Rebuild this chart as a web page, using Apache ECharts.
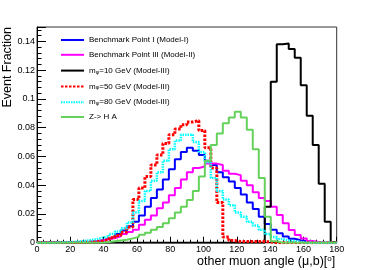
<!DOCTYPE html>
<html><head><meta charset="utf-8">
<script src="https://cdn.jsdelivr.net/npm/echarts@6/dist/echarts.min.js"></script>
<style>html,body{margin:0;padding:0;background:#fff}#c{width:374px;height:270px}</style>
</head><body><div id="c"></div>
<script>
// 50 bins of 3.6 degrees from 0 to 180
const BIN_WIDTH = 3.6;
const xTickValues = [0, 20, 40, 60, 80, 100, 120, 140, 160, 180];
const yTickValues = [0, 0.02, 0.04, 0.06, 0.08, 0.1, 0.12, 0.14];

const benchmarkI = [0.0001,0.0001,0.0001,0.0001,0.0001,0.0001,0.0002,0.0003,0.0006,0.001,
 0.0018,0.0028,0.004,0.006,0.0085,0.0115,0.0145,0.019,0.025,0.031,
 0.037,0.044,0.051,0.058,0.063,0.066,0.064,0.061,0.057,0.054,
 0.049,0.0455,0.0425,0.038,0.0335,0.028,0.0235,0.018,0.013,0.009,
 0.0065,0.0043,0.0028,0.0018,0.001,0.0005,0.0002,0,0,0];
const benchmarkIII = [0.0001,0.0001,0.0001,0.0001,0.0001,0.0001,0.0002,0.0004,0.0006,0.001,
 0.0016,0.0024,0.0033,0.0045,0.006,0.0075,0.009,0.0125,0.016,0.019,
 0.024,0.028,0.033,0.038,0.044,0.049,0.052,0.053,0.055,0.055,
 0.054,0.050,0.048,0.047,0.043,0.040,0.035,0.031,0.029,0.025,
 0.0193,0.0135,0.0088,0.0053,0.003,0.0012,0.0005,0,0,0];
const mphi10 = [0,0,0,0,0,0,0,0,0,0,
 0,0,0,0,0,0,0,0,0,0,
 0,0,0,0,0,0,0,0,0,0,
 0,0,0,0,0,0,0,0,0.025,0.112,
 0.138,0.1386,0.1347,0.1287,0.1095,0.0883,0.068,0.041,0.0146,0.0005];
const mphi50 = [0,0,0,0,0,0.0001,0.0002,0.0004,0.0006,0.0009,
 0.0012,0.002,0.0035,0.005,0.0075,0.011,0.03,0.038,0.046,0.054,
 0.061,0.069,0.075,0.079,0.082,0.084,0.085,0.078,0.066,0.052,
 0.028,0.004,0.0015,0.0008,0.0008,0.0008,0.0008,0.0008,0.0005,0,
 0,0,0,0,0,0,0,0,0,0];
const mphi80 = [0,0,0,0.0002,0.0003,0.0005,0.0008,0.0012,0.0017,0.0025,
 0.0035,0.0045,0.006,0.0078,0.01,0.014,0.021,0.029,0.036,0.043,
 0.049,0.057,0.065,0.071,0.075,0.075,0.070,0.063,0.056,0.045,
 0.036,0.030,0.026,0.021,0.018,0.0145,0.012,0.009,0.006,0.004,
 0.0025,0.0015,0.001,0.0005,0,0,0,0,0,0];
const zHA = [0,0,0,0,0,0,0,0,0,0,
 0,0.0005,0.001,0.0015,0.002,0.003,0.004,0.0055,0.007,0.009,
 0.011,0.0135,0.017,0.021,0.025,0.0297,0.036,0.046,0.057,0.068,
 0.076,0.083,0.087,0.091,0.087,0.0786,0.065,0.045,0.018,0.001,
 0,0,0,0,0,0,0,0,0,0];

function steps(vals) {
  const pts = vals.map((v, i) => [i * BIN_WIDTH, v]);
  pts.push([vals.length * BIN_WIDTH, vals[vals.length - 1]]);
  return pts;
}

const FONT = '"Liberation Sans", Arial, sans-serif';
const legendText = {
  bp1: '{n|Benchmark Point I (Model-I)}',
  bp3: '{n|Benchmark Point III (Model-II)}',
  m10: '{n|m}{s|φ}{n|=10 GeV (Model-III)}',
  m50: '{n|m}{s|φ}{n|=50 GeV (Model-III)}',
  m80: '{n|m}{s|φ}{n|=80 GeV (Model-III)}',
  zha: '{n|Z-> H A}'
};

const defs = [
  {name: 'bp1', data: benchmarkI, color: '#0000ff', width: 2, type: 'solid'},
  {name: 'bp3', data: benchmarkIII, color: '#ff00ff', width: 2, type: 'solid'},
  {name: 'm10', data: mphi10, color: '#000000', width: 2, type: 'solid'},
  {name: 'm50', data: mphi50, color: '#ff0000', width: 3, type: [2.5, 1.5]},
  {name: 'm80', data: mphi80, color: '#00ffff', width: 2.5, type: [1.5, 1]},
  {name: 'zha', data: zHA, color: '#64d25a', width: 2, type: 'solid'}
];

const chart = echarts.init(document.getElementById('c'), null, {renderer: 'canvas'});
chart.setOption({
  animation: false,
  backgroundColor: '#fff',
  grid: {left: 37, right: 37.3, top: 27, bottom: 27.3, show: true, borderColor: '#333', borderWidth: 1, backgroundColor: 'transparent'},
  legend: {
    orient: 'vertical', left: 55, top: 30.5, itemWidth: 23, itemHeight: 9, itemGap: 5.8,
    itemStyle: {opacity: 0},
    formatter: n => legendText[n],
    textStyle: {fontFamily: FONT, fontSize: 8, color: '#000', lineHeight: 9,
      rich: {n: {fontSize: 8, fontFamily: FONT, color: '#000', lineHeight: 9},
             s: {fontSize: 5.5, fontFamily: FONT, color: '#000', lineHeight: 9, verticalAlign: 'bottom', padding: [4, 0, 0, 0]}}},
    selectedMode: false
  },
  xAxis: {
    type: 'value', min: 0, max: 180, interval: 20,
    name: 'other muon angle (μ,b)[{sup|o}]', nameLocation: 'end', nameGap: -1.5,
    nameTextStyle: {fontFamily: FONT, fontSize: 12.5, color: '#000', align: 'right', verticalAlign: 'top', padding: [12, 0, 0, 0],
      rich: {sup: {fontSize: 8, fontFamily: FONT, color: '#000', verticalAlign: 'top', padding: [0, 0, 6, 0]}}},
    axisLine: {lineStyle: {color: '#000', width: 1}},
    axisTick: {inside: true, length: 6, lineStyle: {color: '#000'}},
    minorTick: {show: true, splitNumber: 5, length: 3, lineStyle: {color: '#000'}},
    splitLine: {show: false},
    axisLabel: {fontFamily: FONT, fontSize: 9, color: '#000', margin: 2,
      formatter: v => (xTickValues.includes(Math.round(v)) ? String(Math.round(v)) : '')}
  },
  yAxis: {
    type: 'value', min: 0, max: 0.15, interval: 0.02,
    axisLine: {show: true, lineStyle: {color: '#000', width: 1}},
    axisTick: {show: true, inside: true, length: 9, lineStyle: {color: '#000'}},
    minorTick: {show: true, splitNumber: 5, length: 4.5, lineStyle: {color: '#000'}},
    splitLine: {show: false},
    axisLabel: {fontFamily: FONT, fontSize: 9, color: '#000', margin: 2, showMaxLabel: false,
      formatter: v => (yTickValues.some(t => Math.abs(t - v) < 1e-9) ? String(+v.toFixed(2)) : '')}
  },
  graphic: [{
    type: 'text', x: 8, y: 27, rotation: Math.PI / 2,
    style: {text: 'Event Fraction', fontFamily: FONT, fontSize: 12.5, fill: '#000', align: 'right', verticalAlign: 'middle'}
  }],
  series: defs.map(d => ({
    type: 'line', name: d.name, data: steps(d.data), step: 'end',
    symbol: 'none', silent: true,
    lineStyle: {color: d.color, width: d.width, type: d.type, cap: 'butt'},
    itemStyle: {color: d.color}
  }))
});
</script></body></html>
